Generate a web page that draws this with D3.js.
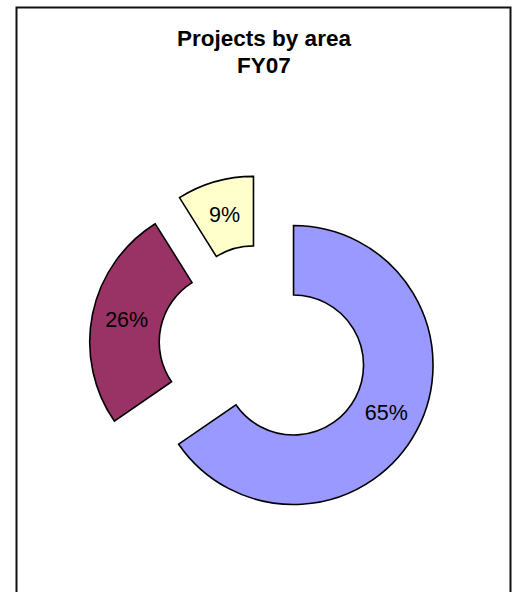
<!DOCTYPE html>
<html>
<head>
<script src="https://d3js.org/d3.v7.min.js"></script>
<style>
  body { margin: 0; background: #fff; }
</style>
</head>
<body>
<script>
  // data (percent of projects)
  var areas = ["Area A", "Area B", "Area C"];
  var shares = [65.4, 25.7, 8.9];
  var sliceColors = ["#9999FF", "#993366", "#FFFFCC"];
  var titleLines = ["Projects by area", "FY07"];

  var width = 517, height = 592;
  var cx = 263, cy = 349;
  var outerRadius = 139.5, innerRadius = 70, explode = 34.5;

  var svg = d3.select("body").append("svg")
    .attr("width", width)
    .attr("height", height);

  // chart area frame (bottom runs off the page)
  svg.append("rect")
    .attr("x", 16.5).attr("y", 7.5)
    .attr("width", 494).attr("height", 620)
    .attr("fill", "none")
    .attr("stroke", "#111")
    .attr("stroke-width", 2);

  svg.selectAll("text.title")
    .data(titleLines)
    .enter().append("text")
    .attr("class", "title")
    .attr("x", 264)
    .attr("y", function(d, i) { return 46 + i * 27; })
    .attr("text-anchor", "middle")
    .style("font-family", "'Liberation Sans', Arial, sans-serif")
    .style("font-weight", "bold")
    .style("font-size", "22.5px")
    .text(function(d) { return d; });

  var pie = d3.pie()
    .sort(null)
    .value(function(d) { return d; });

  var arc = d3.arc()
    .innerRadius(innerRadius)
    .outerRadius(outerRadius);

  var labelArc = d3.arc()
    .innerRadius((innerRadius + outerRadius) / 2)
    .outerRadius((innerRadius + outerRadius) / 2);

  var fmt = d3.format(".0f");

  var g = svg.append("g")
    .attr("transform", "translate(" + cx + "," + cy + ")");

  var slice = g.selectAll("g.slice")
    .data(pie(shares))
    .enter().append("g")
    .attr("class", "slice")
    .attr("transform", function(d) {
      var mid = (d.startAngle + d.endAngle) / 2;
      return "translate(" + (explode * Math.sin(mid)) + "," + (-explode * Math.cos(mid)) + ")";
    });

  slice.append("path")
    .attr("d", arc)
    .attr("fill", function(d, i) { return sliceColors[i]; })
    .attr("stroke", "#000")
    .attr("stroke-width", 1.6)
    .attr("stroke-linejoin", "miter");

  slice.append("text")
    .attr("transform", function(d) { return "translate(" + labelArc.centroid(d) + ")"; })
    .attr("dy", "0.3em")
    .attr("text-anchor", "middle")
    .style("font-family", "'Liberation Sans', Arial, sans-serif")
    .style("font-size", "21.5px")
    .attr("fill", "#000")
    .text(function(d) { return fmt(d.value) + "%"; });
</script>
</body>
</html>
